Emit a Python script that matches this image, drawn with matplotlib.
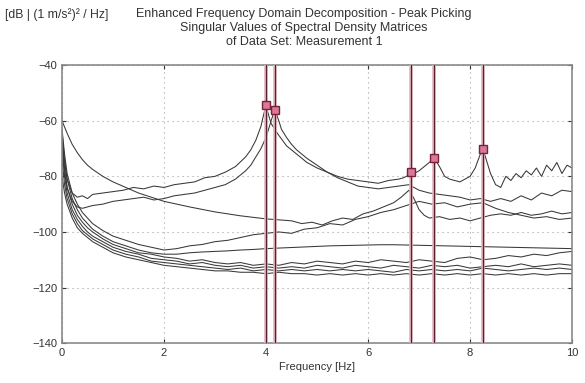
import matplotlib
matplotlib.use('Agg')
import matplotlib.pyplot as plt

plt.rcParams['font.family'] = ['Liberation Sans', 'DejaVu Sans']

# common frequency grid for the smoother singular values
G = [0, 0.05, 0.1, 0.2, 0.3, 0.4, 0.5, 0.6, 0.8, 1.0,
     1.25, 1.5, 1.75, 2.0, 2.25, 2.5, 2.75, 3.0, 3.25, 3.5, 3.75, 4.0,
     4.25, 4.5, 4.75, 5.0, 5.25, 5.5, 5.75, 6.0, 6.25, 6.5, 6.75, 7.0,
     7.25, 7.5, 7.75, 8.0, 8.25, 8.5, 8.75, 9.0, 9.25, 9.5, 9.75, 10.0]

# first singular value (all peaks)
s1_f = [0, 0.05, 0.1, 0.2, 0.3, 0.4, 0.5, 0.6, 0.8, 1.0, 1.2, 1.4, 1.6, 1.8,
        2.0, 2.2, 2.4, 2.6, 2.8, 3.0, 3.2, 3.4, 3.6, 3.7, 3.8, 3.9, 3.95,
        4.0, 4.05, 4.1, 4.2, 4.3, 4.4, 4.6, 4.8, 5.0, 5.2, 5.4, 5.6, 5.8,
        6.0, 6.2, 6.4, 6.6, 6.7, 6.8, 6.85, 6.9, 7.0, 7.1, 7.2, 7.3, 7.4,
        7.5, 7.6, 7.8, 8.0, 8.1, 8.2, 8.25, 8.3, 8.4, 8.5, 8.6, 8.7, 8.8,
        8.9, 9.0, 9.1, 9.2, 9.3, 9.4, 9.5, 9.6, 9.7, 9.8, 9.9, 10.0]
s1_db = [-66, -75, -81, -86, -87.5, -87, -88, -86.5, -86, -85.5, -85, -84,
         -84.5, -83.5, -84, -83, -82.5, -82, -80.5, -80, -78.5, -76.5, -73,
         -70.5, -67, -62, -58, -54.5, -58, -61, -64, -66.5, -69, -72, -75,
         -77, -78.5, -80, -81, -81.5, -82, -82.5, -81.5, -81, -80.5, -79.5,
         -78.5, -79, -78, -76.5, -75, -73.5, -76.5, -80, -81, -82, -80, -77,
         -72, -70, -73, -79, -83, -84, -80, -81.5, -79, -80.5, -78, -79.5,
         -77, -80, -76, -78, -75, -79, -76, -77]

# second singular value
s2_f = [0, 0.05, 0.1, 0.2, 0.3, 0.4, 0.5, 0.6, 0.8, 1.0, 1.2, 1.4, 1.6, 1.8,
        2.0, 2.2, 2.4, 2.6, 2.8, 3.0, 3.2, 3.4, 3.6, 3.7, 3.8, 3.9, 4.0,
        4.05, 4.1, 4.17, 4.25, 4.3, 4.4, 4.5, 4.6, 4.8, 5.0, 5.2, 5.4, 5.6,
        5.8, 6.0, 6.2, 6.4, 6.6, 6.8, 7.0, 7.2, 7.4, 7.6, 7.8, 8.0, 8.2,
        8.4, 8.6, 8.8, 9.0, 9.2, 9.4, 9.6, 9.8, 10.0]
s2_db = [-68, -78, -84, -89, -91, -91.5, -91, -90.5, -90, -89, -88.5, -88,
         -87.5, -88.5, -88, -87, -86.5, -86, -85, -84, -83, -81, -78, -76,
         -73, -70, -66, -63, -60, -56, -60, -63, -66, -68.5, -70.5, -73.5,
         -76, -78.5, -80.5, -82, -83.5, -84, -84.5, -84, -83.5, -83, -85,
         -86, -86.5, -87, -87.5, -88.5, -88, -89, -88, -89, -87, -88.5, -86,
         -87, -85, -85.5]

# smooth decaying value starting at -60 dB
a_f = [0, 0.1, 0.2, 0.3, 0.4, 0.5, 0.6, 0.8, 1.0, 1.25, 1.5, 1.75, 2.0, 2.5,
       3.0, 3.5, 4.0, 4.5, 4.7, 4.9, 5.1, 5.3, 5.5, 5.7, 5.9, 6.1, 6.3, 6.5,
       6.65, 6.8, 6.9, 7.0, 7.1, 7.2, 7.4, 7.6, 7.8, 8.0, 8.2, 8.4, 8.6, 8.8,
       9.0, 9.2, 9.4, 9.6, 9.8, 10.0]
a_db = [-60, -64.5, -68.5, -71.5, -74, -76, -77.5, -80, -82, -84, -86, -87.5,
        -89, -91, -92.8, -94.2, -95.3, -96, -97, -96.5, -97.5, -96, -95,
        -95.5, -93.5, -92.5, -91, -89.5, -87.5, -85, -88, -92, -94, -95,
        -94.5, -95.5, -95, -96, -95, -94, -93.5, -94, -93, -94, -93.5, -92.5,
        -93.5, -93]

c_db = [-63, -72, -79, -86, -90, -93, -95, -97, -99.5, -101.5, -103, -104.5,
        -105.5, -106.5, -106, -105, -104.5, -103.5, -103, -102, -101, -100.5,
        -100, -100.5, -99, -98.5, -97, -97.5, -95.5, -94.5, -93, -92, -90.5,
        -89, -90, -89.5, -91, -90, -89.5, -91.5, -93, -94, -95, -94.5, -95.5,
        -95]
d_db = [-64, -74, -81, -88, -92, -95, -97, -99, -101.5, -103.5, -105, -106.5,
        -107.5, -108, -108, -107.5, -107.2, -107, -106.8, -106.5, -106.3,
        -106, -105.8, -105.6, -105.4, -105.2, -105, -104.9, -104.8, -104.7,
        -104.6, -104.6, -104.7, -104.8, -104.9, -105, -105.1, -105.2, -105.3,
        -105.4, -105.5, -105.6, -105.7, -105.8, -105.9, -106]
e_db = [-66, -77, -84, -90, -94, -96.5, -98.5, -100, -102.5, -104.5, -106,
        -107.5, -108, -109, -109.5, -110.5, -110, -111, -111.5, -111, -112,
        -111.5, -112, -111, -111.5, -110.5, -111, -111.5, -110.5, -111, -110,
        -110.5, -111, -110, -110.5, -111, -109.5, -109, -110, -109.5, -108.5,
        -109, -108, -108.5, -107.5, -107]
f_db = [-70, -80, -86, -92, -95.5, -98, -100, -101.5, -103.5, -105.5, -107,
        -108, -109.5, -110, -110.5, -111.5, -111, -112, -112.5, -112, -113,
        -112.5, -113, -112.5, -113, -112, -112.5, -113, -112, -112.5, -113,
        -112, -112.5, -113, -112, -112.5, -112, -113, -112.5, -112, -112.5,
        -111.5, -112.5, -112, -111.5, -112]
g_db = [-74, -83, -88, -93.5, -97, -99.5, -101, -102.5, -104.5, -106.5, -108,
        -109, -110.5, -111, -111.5, -112, -112.5, -113, -113.5, -113, -114,
        -113.5, -114, -113.5, -114, -113.5, -114, -113.5, -114, -113.5, -114,
        -114.5, -113.5, -114, -113.5, -114, -113.5, -114, -113, -113.5, -114,
        -113.5, -113, -113.5, -113, -113.5]
h_db = [-80, -86, -90, -95, -98.5, -100.5, -102, -103.5, -105.5, -107.5, -109,
        -110, -111, -112, -112.5, -113, -113.5, -114, -114, -114.5, -114.5,
        -115, -114.5, -115, -115, -115.5, -115, -115.5, -115, -115.5, -115,
        -115.5, -115, -115.5, -115, -115.5, -115, -115.5, -115, -115.5, -115,
        -115.5, -115, -115.5, -115, -115]

# picked peaks
peak_f = [4.0, 4.17, 6.85, 7.3, 8.25]
peak_db = [-54.5, -56, -78.5, -73.5, -70]

fig = plt.figure(figsize=(5.85, 3.83), dpi=100)
ax = fig.add_axes([0.106, 0.104, 0.872, 0.726])

line_kw = dict(color='#383838', lw=0.75)
for fdb in (h_db, g_db, f_db, e_db, d_db, c_db):
    ax.plot(G, fdb, **line_kw)
ax.plot(a_f, a_db, **line_kw)
ax.plot(s2_f, s2_db, **line_kw)
ax.plot(s1_f, s1_db, **line_kw)

# peak picking lines
for pf in peak_f:
    ax.axvline(pf, color='#e2b6c0', lw=2.6, zorder=3)
    ax.axvline(pf, color='#5a1f2c', lw=0.9, zorder=4)
ax.plot(peak_f, peak_db, 's', ms=5.5, mfc='#d8789a', mec='#7a2038', mew=1.0,
        zorder=5)

ax.set_xlim(0, 10)
ax.set_ylim(-140, -40)
ax.set_xticks([0, 2, 4, 6, 8, 10])
ax.set_yticks([-140, -120, -100, -80, -60, -40])
ax.grid(True, color='#a0a0a0', lw=0.8, ls=(0, (1, 3.5)))
ax.tick_params(direction='in', length=3, labelsize=8, colors='#333333',
               top=True, right=True)
for sp in ax.spines.values():
    sp.set_color('#8a8a8a')
    sp.set_linewidth(1.2)

ax.set_xlabel('Frequency [Hz]', fontsize=8, color='#333333', labelpad=3)

fig.text(0.009, 0.963, '[dB | (1 m/s\u00b2)\u00b2 / Hz]', fontsize=8.8,
         color='#333333', va='center')
fig.text(0.52, 0.963, 'Enhanced Frequency Domain Decomposition - Peak Picking',
         fontsize=9, color='#333333', ha='center', va='center')
fig.text(0.52, 0.927, 'Singular Values of Spectral Density Matrices',
         fontsize=9, color='#333333', ha='center', va='center')
fig.text(0.52, 0.891, 'of Data Set: Measurement 1',
         fontsize=9, color='#333333', ha='center', va='center')

fig.savefig('out.png', dpi=100)
